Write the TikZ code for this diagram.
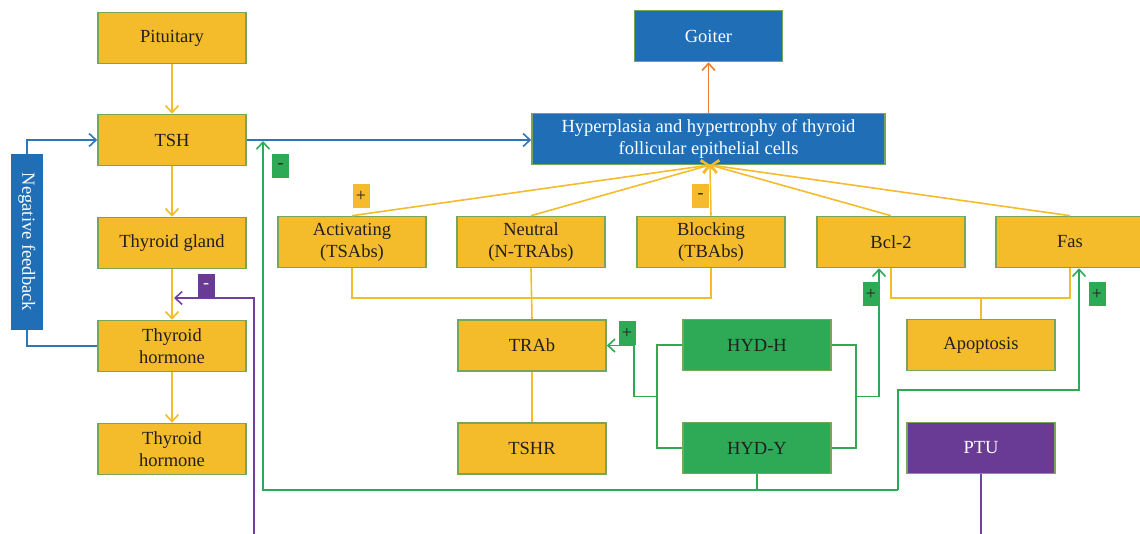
\documentclass[tikz,border=0pt]{standalone}
\usepackage{fontspec}
\setmainfont{Liberation Serif}
\usetikzlibrary{arrows.meta,calc}
\definecolor{yel}{HTML}{F4BC2A}
\definecolor{edge}{HTML}{77A65A}
\definecolor{blu}{HTML}{1F6EB6}
\definecolor{grnbox}{HTML}{2EA956}
\definecolor{pur}{HTML}{6A3B94}
\definecolor{txt}{HTML}{231F20}
\definecolor{bluel}{HTML}{2E75B6}
\definecolor{grnl}{HTML}{2EAA55}
\definecolor{purl}{HTML}{7040A0}
\definecolor{orl}{HTML}{ED7D31}
\begin{document}
\begin{tikzpicture}[x=1pt,y=-1pt,
  box/.style={draw=edge, line width=1.6pt, minimum width=148pt, minimum height=51pt,
    inner sep=2pt, align=center, font=\fontsize{18.5}{22}\selectfont, text=txt},
  ybox/.style={box, fill=yel},
  bbox/.style={box, fill=blu, text=white},
  gbox/.style={box, fill=grnbox},
  pbox/.style={box, fill=pur, text=white},
  conn/.style={line width=1.6pt},
  yline/.style={conn, draw=yel},
  bline/.style={conn, draw=bluel},
  gline/.style={conn, draw=grnl},
  pline/.style={conn, draw=purl},
  oline/.style={conn, draw=orl},
  tip/.style={-{Straight Barb[length=7pt,width=13pt]}},
  sign/.style={minimum width=17pt, minimum height=24pt, inner sep=0pt,
    font=\fontsize{18}{18}\selectfont, text=txt}
]
\clip (0,0) rectangle (1140,534);
% left column
\node[ybox] (pit) at (172,38) {Pituitary};
\node[ybox] (tsh) at (172,140) {TSH};
\node[ybox] (gland) at (172,243) {Thyroid gland};
\node[ybox] (th1) at (172,346) {Thyroid\\hormone};
\node[ybox] (th2) at (172,449) {Thyroid\\hormone};
\node[fill=blu, minimum width=32pt, minimum height=176pt, inner sep=0pt,
  text=white, font=\fontsize{18.5}{20}\selectfont] (nf) at (27,242)
  {\rotatebox{-90}{Negative feedback}};
% top
\node[bbox] (goi) at (708.5,36) {Goiter};
\node[bbox, minimum width=353pt] (hyp) at (708.5,139) {Hyperplasia and hypertrophy of thyroid\\follicular epithelial cells};
% row
\node[ybox] (act) at (352,242) {Activating\\(TSAbs)};
\node[ybox] (neu) at (531,242) {Neutral\\(N-TRAbs)};
\node[ybox] (blk) at (711,242) {Blocking\\(TBAbs)};
\node[ybox] (bcl) at (891,242) {Bcl-2};
\node[ybox] (fas) at (1070,242) {Fas};
% lower
\node[ybox] (trab) at (532,345.5) {TRAb};
\node[ybox] (tshr) at (532,448.5) {TSHR};
\node[gbox] (hydh) at (757,345) {HYD-H};
\node[gbox] (hydy) at (757,448) {HYD-Y};
\node[ybox] (apo) at (981,345) {Apoptosis};
\node[pbox] (ptu) at (981,448) {PTU};

% coordinates
\coordinate (T) at (710,165);
\coordinate (bclin) at ($(bcl.south)+(-12,0)$);
\coordinate (fasin) at ($(fas.south)+(9,0)$);
\coordinate (gtop) at (263,141);
\coordinate (gbot) at (263,490);
\coordinate (gright) at (898,490);
\coordinate (pbot) at (254,545);
\coordinate (parr) at (174,298);
\coordinate (ptubot) at (981,545);

% left column connectors
\draw[yline,tip] (pit) -- (tsh);
\draw[yline,tip] (tsh) -- (gland);
\draw[yline,tip] (gland) -- (th1);
\draw[yline,tip] (th1) -- (th2);
\draw[bline] (th1.west) -| (nf.south);
\draw[bline,tip] (nf.north) |- (tsh.west);
\draw[bline,tip] (tsh.east) -- (tsh.east -| hyp.west);
\draw[oline,tip] (hyp.north) -- (goi.south);

% converging
\foreach \n in {act,neu,blk,bcl,fas}{
  \draw[yline,tip] (\n.north) -- (T);
}
\draw[yline] (act.south) -- ++(0,30) -| (blk.south);
\draw[yline] (neu.south) -- (trab.north);
\draw[yline] (trab.south) -- (tshr.north);
\draw[yline] (bcl.south) -- ++(0,30) -| (fas.south);
\draw[yline] (apo.north) -- ++(0,-20);

% green
\draw[gline] (hydh.west) -- ++(-25,0) |- (hydy.west);
\draw[gline,tip] ($(hydh.west)+(-25,51.5)$) -- ++(-23,0) |- (trab.east);
\draw[gline] (hydh.east) -- ++(24,0) |- (hydy.east);
\draw[gline,tip] ($(hydh.east)+(24,51.5)$) -| (bclin);
\draw[gline] (hydy.south) -- (hydy.south |- gbot);
\draw[gline,tip] (gright) -- (gbot) -- (gtop);
\draw[gline,tip] (gright) -- (898,390) -| (fasin);

% purple
\draw[pline] (ptu.south) -- (ptubot);
\draw[pline,tip] (pbot) |- (parr);

% signs
\node[sign, fill=yel] (s1) at (361,196.5) {+};
\node[sign, fill=yel] (s2) at (700.5,196.5) {-};
\node[sign, fill=grnbox] (s3) at (280.5,166) {-};
\node[sign, fill=pur, text=white] (s4) at (206,286) {-};
\node[sign, fill=grnbox] (s5) at (627,333.5) {+};
\node[sign, fill=grnbox] (s6) at (871,294) {+};
\node[sign, fill=grnbox] (s7) at (1097,294) {+};
\end{tikzpicture}
\end{document}
